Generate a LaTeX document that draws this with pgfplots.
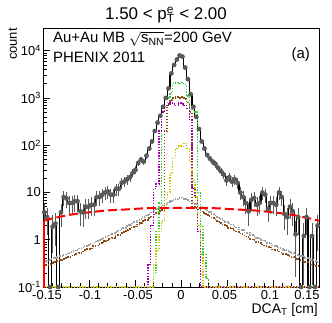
\documentclass[border=0pt]{standalone}
\usepackage{fontspec}
\setmainfont{Liberation Sans}
\usepackage{pgfplots}
\pgfplotsset{compat=1.18}
\usepackage{pgfplotstable}
\usetikzlibrary{calc}

\definecolor{hgreen}{RGB}{51,204,51}
\definecolor{hmag}{RGB}{160,0,170}
\definecolor{hbrown}{RGB}{140,75,20}
\definecolor{hyel}{RGB}{200,200,0}
\definecolor{hgray}{RGB}{160,160,160}
\definecolor{errgray}{RGB}{90,90,90}

\newcommand\fs[1]{\fontsize{#1}{#1}\selectfont}

% bin edge, bin centre, data, errors, two wide components
\pgfplotstableread{
xe xc data ep em gray brown
-0.150 -0.1485 3.8 1.95 1.95 0.34 0.28
-0.147 -0.1455 3.0 1.73 1.73 0.36 0.29
-0.144 -0.1425 0.1 0 0 0.37 0.31
-0.141 -0.1395 1.9 1.38 1.38 0.40 0.32
-0.138 -0.1365 2.2 1.48 1.48 0.41 0.34
-0.135 -0.1335 0.1 0 0 0.44 0.36
-0.132 -0.1305 3.8 1.95 1.95 0.45 0.37
-0.129 -0.1275 8 2.83 2.83 0.48 0.39
-0.126 -0.1245 7.5 2.74 2.74 0.49 0.41
-0.123 -0.1215 6 2.45 2.45 0.53 0.43
-0.120 -0.1185 6 2.45 2.45 0.55 0.46
-0.117 -0.1155 6.5 2.55 2.55 0.59 0.48
-0.114 -0.1125 6.5 2.55 2.55 0.61 0.51
-0.111 -0.1095 4 2 2 0.66 0.53
-0.108 -0.1065 3.8 1.95 1.95 0.68 0.57
-0.105 -0.1035 5 2.24 2.24 0.74 0.60
-0.102 -0.1005 5 2.24 2.24 0.77 0.64
-0.099 -0.0975 5.5 2.35 2.35 0.81 0.66
-0.096 -0.0945 5.5 2.35 2.35 0.88 0.73
-0.093 -0.0915 8 2.83 2.83 0.92 0.75
-0.090 -0.0885 8 2.83 2.83 0.99 0.82
-0.087 -0.0855 9 3 3 1.04 0.85
-0.084 -0.0825 10 3.16 3.16 1.13 0.93
-0.081 -0.0795 10.5 3.24 3.24 1.18 0.97
-0.078 -0.0765 9 3 3 1.28 1.05
-0.075 -0.0735 9 3 3 1.35 1.10
-0.072 -0.0705 12 3.46 3.46 1.47 1.21
-0.069 -0.0675 12 3.46 3.46 1.56 1.27
-0.066 -0.0645 16 4 4 1.69 1.39
-0.063 -0.0615 17 4.12 4.12 1.79 1.46
-0.060 -0.0585 19 4.36 4.36 1.94 1.60
-0.057 -0.0555 21 4.58 4.58 2.06 1.68
-0.054 -0.0525 26 5.1 5.1 2.22 1.83
-0.051 -0.0495 30 5.48 5.48 2.35 1.92
-0.048 -0.0465 42 6.48 6.48 2.58 2.12
-0.045 -0.0435 50 7.07 7.07 2.74 2.24
-0.042 -0.0405 45 6.71 6.71 3.00 2.47
-0.039 -0.0375 60 7.75 7.75 3.22 2.63
-0.036 -0.0345 85 9.22 9.22 3.53 2.90
-0.033 -0.0315 120 10.95 10.95 3.80 3.10
-0.030 -0.0285 200 14.1 14.1 4.18 3.45
-0.027 -0.0255 300 17.3 17.3 4.49 3.68
-0.024 -0.0225 420 20.5 20.5 4.93 4.05
-0.021 -0.0195 650 25.5 25.5 5.28 4.3
-0.018 -0.0165 1000 31.6 31.6 5.72 200
-0.015 -0.0135 1600 40 40 6.08 700
-0.012 -0.0105 3300 57.4 57.4 6.55 900
-0.009 -0.0075 5000 70.7 70.7 6.90 1000
-0.006 -0.0045 6500 80.6 80.6 7.35 1050
-0.003 -0.0015 7900 88.9 88.9 7.70 1000
0.000 0.0015 7500 86.6 86.6 7.75 1050
0.003 0.0045 4400 66.3 66.3 7.28 950
0.006 0.0075 2500 50 50 6.95 800
0.009 0.0105 1200 34.6 34.6 6.50 500
0.012 0.0135 650 25.5 25.5 6.12 5.0
0.015 0.0165 400 20 20 5.66 4.65
0.018 0.0195 220 14.8 14.8 5.33 4.35
0.021 0.0225 120 10.95 10.95 4.88 4.0
0.024 0.0255 85 9.22 9.22 4.53 3.72
0.027 0.0285 62 7.87 7.87 4.12 3.37
0.030 0.0315 52 7.21 7.21 3.85 3.16
0.033 0.0345 45 6.71 6.71 3.49 2.85
0.036 0.0375 40 6.32 6.32 3.26 2.68
0.039 0.0405 33 5.74 5.74 2.95 2.41
0.042 0.0435 28 5.29 5.29 2.78 2.28
0.045 0.0465 24 4.9 4.9 2.54 2.08
0.048 0.0495 18 4.24 4.24 2.39 1.96
0.051 0.0525 21 4.58 4.58 2.19 1.79
0.054 0.0555 17 4.12 4.12 2.09 1.72
0.057 0.0585 19 4.36 4.36 1.91 1.56
0.060 0.0615 16 4 4 1.82 1.49
0.063 0.0645 10 3.16 3.16 1.66 1.36
0.066 0.0675 8 2.83 2.83 1.59 1.31
0.069 0.0705 6 2.45 2.45 1.44 1.18
0.072 0.0735 4 2 2 1.38 1.13
0.075 0.0765 7 2.65 2.65 1.25 1.02
0.078 0.0795 7.6 2.76 2.76 1.20 0.98
0.081 0.0825 5.5 2.35 2.35 1.10 0.90
0.084 0.0855 6 2.45 2.45 1.06 0.87
0.087 0.0885 10 3.16 3.16 0.97 0.79
0.090 0.0915 9 3 3 0.93 0.76
0.093 0.0945 4.5 2.12 2.12 0.86 0.70
0.096 0.0975 6 2.45 2.45 0.83 0.68
0.099 0.1005 6 2.45 2.45 0.76 0.62
0.102 0.1035 5.5 2.35 2.35 0.74 0.61
0.105 0.1065 10 3.16 3.16 0.68 0.56
0.108 0.1095 8 2.83 2.83 0.66 0.54
0.111 0.1125 3.5 1.87 1.87 0.61 0.50
0.114 0.1155 3 1.73 1.73 0.59 0.48
0.117 0.1185 5 2.24 2.24 0.55 0.45
0.120 0.1215 4 2 2 0.53 0.43
0.123 0.1245 1.3 1.14 1.14 0.49 0.40
0.126 0.1275 3 1.73 1.73 0.48 0.39
0.129 0.1305 0.1 0 0 0.45 0.37
0.132 0.1335 1.2 1.09 1.09 0.44 0.36
0.135 0.1365 3 1.73 1.73 0.41 0.34
0.138 0.1395 0.1 0 0 0.40 0.33
0.141 0.1425 1.2 1.09 1.09 0.37 0.30
0.144 0.1455 0.1 0 0 0.36 0.30
0.147 0.1485 2 1.41 1.41 0.34 0.28
0.150 0.1515 2 0 0 0.34 0.28
}\hist

\begin{document}
\begin{tikzpicture}
\begin{axis}[
    scale only axis,
    width=276bp, height=259bp,
    xmin=-0.15, xmax=0.15,
    ymode=log, ymin=0.1, ymax=30200,
    axis line style={line width=0.6bp},
    tick pos=left,
    tick align=inside,
    major tick length=7bp,
    minor tick length=4bp,
    tick style={line width=0.5bp, black},
    xtick={-0.15,-0.1,-0.05,0,0.05,0.1,0.15},
    minor x tick num=4,
    xticklabels={\hspace*{8bp}-0.15,\hspace*{2bp}-0.1,\hspace*{6bp}-0.05,0,0.05\hspace*{5bp},0.1\hspace*{6bp},0.15\hspace*{24bp}},
    ytickten={-1,0,1,2,3,4},
    yticklabels={10\textsuperscript{-1},1,10,10\textsuperscript{2},10\textsuperscript{3},10\textsuperscript{4}},
    tick label style={font=\fs{13}},
    xticklabel style={inner sep=0pt, yshift=-3bp},
    yticklabel style={inner sep=0pt, xshift=-2bp},
]
% data error bars and histogram
\addplot[errgray, line width=0.8bp, only marks, mark=none,
    error bars/.cd, y dir=both, y explicit, error mark=none,
    error bar style={errgray, line width=0.8bp}]
    table[x=xc, y=data, y error plus=ep, y error minus=em] {\hist};
\addplot[black, line width=1.1bp, const plot mark left] table[x=xe, y=data] {\hist};

% components
\addplot[hgray, line width=1.5bp, dash pattern=on 1.5bp off 1.2bp, const plot mark left] table[x=xe, y=gray] {\hist};
\addplot[hbrown, line width=1.5bp, dash pattern=on 1.5bp off 1.5bp, const plot mark left] table[x=xe, y=brown] {\hist};
\addplot[hgreen, line width=1.4bp, dash pattern=on 1.4bp off 1.4bp, const plot mark left] coordinates {
(-0.150,0.1) (-0.030,0.2) (-0.027,1.5) (-0.024,6) (-0.021,500) (-0.018,700)
(-0.015,1000) (-0.012,1300) (-0.009,2000) (-0.006,2100) (-0.003,2000)
(0.000,2100) (0.003,1900) (0.006,1100) (0.009,650) (0.012,550) (0.015,500)
(0.018,10) (0.021,2) (0.024,0.5) (0.027,0.15) (0.030,0.1) (0.150,0.1)};
\addplot[hmag, line width=1.4bp, dash pattern=on 1.4bp off 1.4bp, const plot mark left] coordinates {
(-0.150,0.1) (-0.036,0.3) (-0.033,2) (-0.030,12) (-0.027,15) (-0.024,200)
(-0.021,500) (-0.018,700) (-0.015,750) (-0.012,800) (-0.009,750) (-0.006,700)
(-0.003,800) (0.000,750) (0.003,700) (0.006,600) (0.009,350) (0.012,12)
(0.015,8) (0.018,1.5) (0.021,0.1) (0.150,0.1)};
\addplot[hyel, line width=1.4bp, dash pattern=on 1.4bp off 1.4bp, const plot mark left] coordinates {
(-0.150,0.1) (-0.030,0.3) (-0.027,0.6) (-0.024,1.5) (-0.021,2.5) (-0.018,7)
(-0.015,10) (-0.012,25) (-0.009,55) (-0.006,85) (-0.003,100) (0.000,95)
(0.003,110) (0.006,85) (0.009,45) (0.012,18) (0.015,8) (0.018,2) (0.021,0.5)
(0.024,0.1) (0.150,0.1)};
% fit: edge drop and smooth curve
\addplot[red, line width=2bp] coordinates {(-0.1491,0.05) (-0.1491,2.52)};
\addplot[red, line width=2bp, dash pattern=on 9bp off 4bp, smooth] coordinates {
(-0.1491,2.52) (-0.14,2.82) (-0.12,3.39) (-0.10,3.80) (-0.08,4.17)
(-0.06,4.37) (-0.04,4.62) (-0.02,4.68) (0,4.70) (0.02,4.68) (0.04,4.62)
(0.06,4.37) (0.08,4.17) (0.10,3.80) (0.12,3.39) (0.14,2.82) (0.15,2.51)};
\end{axis}

\node[anchor=base, font=\fs{17}, inner sep=0] at ($(current axis.north west)+(123bp,8bp)$)
    {1.50 < p\rlap{\textsuperscript{e}}\textsubscript{T} < 2.00};
\node[anchor=base west, font=\fs{15}, inner sep=0] at ($(current axis.north west)+(10bp,-15bp)$)
    {Au+Au MB $\sqrt{\mbox{s\textsubscript{NN}}}$=200 GeV};
\node[anchor=base west, font=\fs{15}, inner sep=0] at ($(current axis.north west)+(10bp,-35bp)$)
    {PHENIX 2011};
\node[anchor=base east, font=\fs{15}, inner sep=0] at ($(current axis.north west)+(267bp,-31bp)$)
    {(a)};
\node[anchor=base east, rotate=90, font=\fs{13}, inner sep=0] at ($(current axis.north west)+(-26bp,0bp)$)
    {count};
\node[anchor=base east, font=\fs{14}, inner sep=0] at ($(current axis.south east)+(-1bp,-26bp)$)
    {DCA\textsubscript{T} [cm]};

\pgfresetboundingbox
\path[use as bounding box] ($(current axis.south west)+(-43bp,-36bp)$) rectangle ($(current axis.north east)+(13bp,28bp)$);
\end{tikzpicture}
\end{document}
